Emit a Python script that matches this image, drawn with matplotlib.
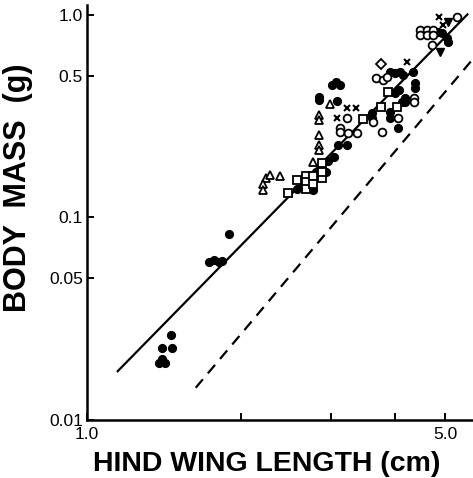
import matplotlib
matplotlib.use("Agg")
import matplotlib.pyplot as plt
import numpy as np

plt.rcParams['font.family'] = ['Liberation Sans', 'DejaVu Sans']

# ---- data (hind wing length in cm, body mass in g) ----
filled_circle_L = [1.459, 1.401, 1.466, 1.382, 1.420, 1.401,
                   1.731, 1.770, 1.811, 1.835, 1.894,
                   2.572, 2.763, 2.801, 2.929, 2.955, 3.037, 3.092, 3.220,
                   2.839, 2.839, 3.078, 3.009, 3.120, 3.060,
                   3.602, 3.602, 3.907, 3.907, 4.050, 4.124, 4.180, 4.180,
                   3.996, 4.068, 4.372, 4.372,
                   3.907, 3.996, 4.087, 4.142, 4.333,
                   4.848, 4.936, 5.048, 5.071]
filled_circle_M = [0.0264, 0.0227, 0.0227, 0.0191, 0.0191, 0.0200,
                   0.0606, 0.0620, 0.0606, 0.0612, 0.0833,
                   0.139, 0.136, 0.167, 0.167, 0.191, 0.198, 0.227, 0.227,
                   0.380, 0.393, 0.375, 0.450, 0.450, 0.465,
                   0.327, 0.309, 0.331, 0.309, 0.276, 0.371, 0.388, 0.371,
                   0.411, 0.425, 0.461, 0.435,
                   0.522, 0.516, 0.522, 0.505, 0.522,
                   0.824, 0.815, 0.769, 0.735]

open_circle_L = [3.220, 3.120, 3.120, 3.235, 3.368, 3.619, 3.769, 4.050,
                 3.668, 3.786, 3.854, 4.352, 4.352,
                 4.472, 4.472, 4.615, 4.615, 4.740, 4.740, 4.719, 5.281]
open_circle_M = [0.309, 0.276, 0.263, 0.260, 0.260, 0.295, 0.263, 0.309,
                 0.488, 0.477, 0.492, 0.388, 0.371,
                 0.843, 0.796, 0.843, 0.796, 0.843, 0.796, 0.710, 0.977]

open_triangle_L = [2.237, 2.278, 2.382, 2.207, 2.207, 2.763,
                   2.839, 2.839, 2.839, 2.839, 2.839, 2.982]
open_triangle_M = [0.156, 0.163, 0.161, 0.146, 0.136, 0.187,
                   0.320, 0.302, 0.255, 0.227, 0.215, 0.363]

open_square_L = [2.470, 2.572, 2.677, 2.677, 2.677, 2.763, 2.763,
                 2.877, 2.877, 2.877, 3.459, 3.752, 3.872, 4.032]
open_square_M = [0.132, 0.154, 0.161, 0.149, 0.139, 0.161, 0.147,
                 0.156, 0.167, 0.185, 0.306, 0.350, 0.416, 0.350]

cross_L = [3.220, 3.353, 3.078, 4.217, 4.870, 4.958]
cross_M = [0.346, 0.346, 0.309, 0.585, 0.977, 0.892]

open_diamond_L = [3.752]
open_diamond_M = [0.572]

filled_tri_down_L = [5.071, 4.892]
filled_tri_down_M = [0.923, 0.656]

# regression line (solid) and isometric line (dashed): M = a * L**b
fit_a, fit_b, fit_range = 0.0122, 2.58, (1.144, 5.55)
iso_a, iso_b, iso_range = 0.00333, 3.0, (1.63, 6.0)

y_ticks = [0.01, 0.05, 0.1, 0.5, 1.0]
y_ticklabels = ['0.01', '0.05', '0.1', '0.5', '1.0']
x_ticks = [1, 2, 3, 4, 5]
x_ticklabels = ['1.0', '', '', '', '5.0']

# ---- figure ----
W, H = 473, 478
fig = plt.figure(figsize=(W / 100, H / 100), dpi=100)
ax = fig.add_axes([87 / W, (H - 420) / H, (W - 87) / W, (420 - 5) / H])
ax.set_xscale('log')
ax.set_yscale('log')
ax.set_xlim(1.0, 5.67)
ax.set_ylim(0.01, 1.12)

xs = np.linspace(*fit_range, 50)
ax.plot(xs, fit_a * xs ** fit_b, color='black', lw=1.6, solid_capstyle='butt')
xs2 = np.linspace(*iso_range, 50)
ax.plot(xs2, iso_a * xs2 ** iso_b, color='black', lw=1.6, dashes=(5, 3.5))

ms = 5.6
ax.plot(filled_circle_L, filled_circle_M, 'o', ms=ms, color='black', mec='black')
ax.plot(open_circle_L, open_circle_M, 'o', ms=ms, mfc='white', mec='black', mew=1.3)
ax.plot(open_triangle_L, open_triangle_M, '^', ms=ms, mfc='white', mec='black', mew=1.3)
ax.plot(open_square_L, open_square_M, 's', ms=ms - 0.4, mfc='white', mec='black', mew=1.3)
ax.plot(cross_L, cross_M, 'x', ms=ms - 0.6, color='black', mew=1.5)
ax.plot(open_diamond_L, open_diamond_M, 'D', ms=ms - 0.6, mfc='white', mec='black', mew=1.3)
ax.plot(filled_tri_down_L, filled_tri_down_M, 'v', ms=ms + 0.6, color='black')

for s in ['top', 'right']:
    ax.spines[s].set_visible(False)
for s in ['left', 'bottom']:
    ax.spines[s].set_linewidth(1.8)

ax.set_yticks(y_ticks)
ax.set_yticklabels(y_ticklabels)
ax.set_xticks(x_ticks)
ax.set_xticklabels(x_ticklabels)
ax.minorticks_off()
ax.tick_params(axis='both', direction='in', length=5, width=1.4,
               labelsize=12.5, colors='black')
ax.tick_params(axis='y', pad=3)
ax.tick_params(axis='x', pad=5)

fig.text(267 / W, 1 - 464 / H, 'HIND WING LENGTH (cm)', ha='center', va='center',
         fontsize=20.5, fontweight='bold')
fig.text(18 / W, 1 - 188 / H, 'BODY  MASS  (g)', ha='center', va='center',
         rotation=90, fontsize=22, fontweight='bold')

fig.savefig('out.png', dpi=100, facecolor='white')
